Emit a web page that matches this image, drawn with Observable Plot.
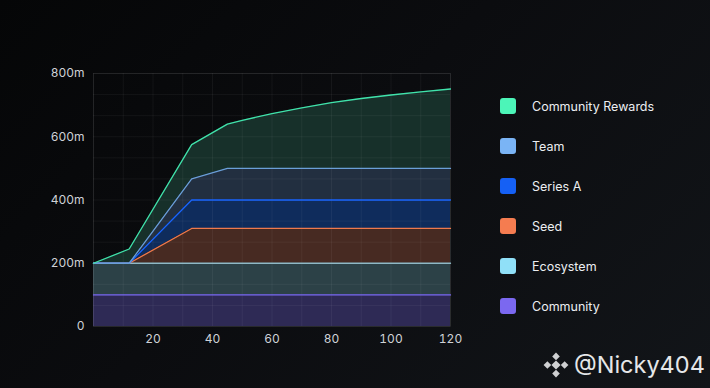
<!DOCTYPE html>
<html>
<head>
<meta charset="utf-8">
<script src="https://cdn.jsdelivr.net/npm/d3@7"></script>
<script src="https://cdn.jsdelivr.net/npm/@observablehq/plot@0.6"></script>
<style>
  html, body { margin: 0; padding: 0; }
  body {
    width: 710px; height: 388px; overflow: hidden;
    background: linear-gradient(135deg, #050607 0%, #0b0c0f 45%, #121519 100%);
    font-family: Inter, "Noto Sans", sans-serif;
  }
  #wrap { position: relative; width: 710px; height: 388px; }
  #chart { position: absolute; left: 0; top: 0; }
  .legend { position: absolute; left: 500px; top: 0; }
  .item { position: absolute; left: 0; display: flex; align-items: center; white-space: nowrap; }
  .sw { width: 16px; height: 16px; border-radius: 3px; margin-right: 16px; }
  .lab { color: #eceef1; font-size: 12.5px; }
  #mark { position: absolute; left: 542px; top: 350px; display: flex; align-items: center; color: #e6e7e9; font-size: 23.5px; }
  #mark svg { margin-right: 4px; }
</style>
</head>
<body>
<div id="wrap">
  <div id="chart"></div>
  <div class="legend" id="legend"></div>
  <div id="mark">
    <svg width="28" height="28" viewBox="0 0 26 26">
      <g fill="#cfd0d2">
        <rect x="10" y="10" width="6" height="6" transform="rotate(45 13 13)"/>
        <rect x="10.5" y="2.5" width="5" height="5" transform="rotate(45 13 5)"/>
        <rect x="10.5" y="18.5" width="5" height="5" transform="rotate(45 13 21)"/>
        <rect x="2.5" y="10.5" width="5" height="5" transform="rotate(45 5 13)"/>
        <rect x="18.5" y="10.5" width="5" height="5" transform="rotate(45 21 13)"/>
      </g>
    </svg>
    <span>@Nicky404</span>
  </div>
</div>
<script>
// ---- data (values in millions of tokens, per month) ----
const months           = [0, 12, 33, 45, 50, 60, 70, 80, 90, 100, 110, 120];
const community        = [100, 100, 100, 100, 100, 100, 100, 100, 100, 100, 100, 100];
const ecosystem        = [100, 100, 100, 100, 100, 100, 100, 100, 100, 100, 100, 100];
const seed             = [0, 0, 110, 110, 110, 110, 110, 110, 110, 110, 110, 110];
const seriesA          = [0, 0, 90, 90, 90, 90, 90, 90, 90, 90, 90, 90];
const team             = [0, 0, 67, 100, 100, 100, 100, 100, 100, 100, 100, 100];
const communityRewards = [0, 45, 108, 140, 152, 173, 191, 208, 221, 232, 242, 251];

const seriesNames = ["Community", "Ecosystem", "Seed", "Series A", "Team", "Community Rewards"];
const seriesValues = [community, ecosystem, seed, seriesA, team, communityRewards];
const legendOrder = ["Community Rewards", "Team", "Series A", "Seed", "Ecosystem", "Community"];
const yTicks = [0, 200, 400, 600, 800];
const xTicks = [20, 40, 60, 80, 100, 120];

// ---- styles ----
const swatch = {
  "Community Rewards": "#4cf5b8", "Team": "#7ab4f5", "Series A": "#1560f5",
  "Seed": "#f57c50", "Ecosystem": "#90e0f8", "Community": "#7b68f0"
};
const areaFill = {
  "Community Rewards": "#17302a", "Team": "#222f40", "Series A": "#0f2c5c",
  "Seed": "#472a22", "Ecosystem": "#2c4147", "Community": "#2e2a55"
};
const lineColor = {
  "Community Rewards": "#40e3ab", "Team": "#6a9fd8", "Series A": "#1a66ff",
  "Seed": "#f07a4c", "Ecosystem": "#8fb9c6", "Community": "#7b6cf6"
};

const data = [];
seriesNames.forEach((s, i) => months.forEach((m, j) => data.push({series: s, month: m, value: seriesValues[i][j]})));

const chart = Plot.plot({
  width: 710, height: 388,
  marginLeft: 93, marginRight: 260, marginTop: 73, marginBottom: 62,
  style: {background: "transparent", color: "#cfd2d7", fontFamily: "Inter, sans-serif", fontSize: "12px"},
  x: {domain: [0, 120], label: null},
  y: {domain: [0, 800], label: null},
  marks: [
    Plot.areaY(data, Plot.stackY({x: "month", y: "value", z: "series", fill: d => areaFill[d.series]})),
    Plot.ruleX(d3.range(0, 121, 10), {stroke: "#ffffff", strokeOpacity: 0.05}),
    Plot.ruleY(d3.range(0, 13).map(i => i * 800 / 12), {stroke: "#ffffff", strokeOpacity: 0.05}),
    Plot.frame({stroke: "#ffffff", strokeOpacity: 0.07}),
    Plot.lineY(data, Plot.stackY2({x: "month", y: "value", z: "series", stroke: d => lineColor[d.series], strokeWidth: 1.3})),
    Plot.axisY({ticks: yTicks, tickSize: 0, tickPadding: 9, label: null, tickFormat: d => d === 0 ? "0" : d + "m", fill: "#cfd2d7"}),
    Plot.axisX({ticks: xTicks, tickSize: 0, tickPadding: 8, label: null, fill: "#cfd2d7"})
  ]
});
document.getElementById("chart").appendChild(chart);

const legend = document.getElementById("legend");
legendOrder.forEach((s, i) => {
  const it = document.createElement("div");
  it.className = "item";
  it.style.top = (98 + i * 40) + "px";
  it.innerHTML = `<div class="sw" style="background:${swatch[s]}"></div><span class="lab">${s}</span>`;
  legend.appendChild(it);
});
</script>
</body>
</html>
